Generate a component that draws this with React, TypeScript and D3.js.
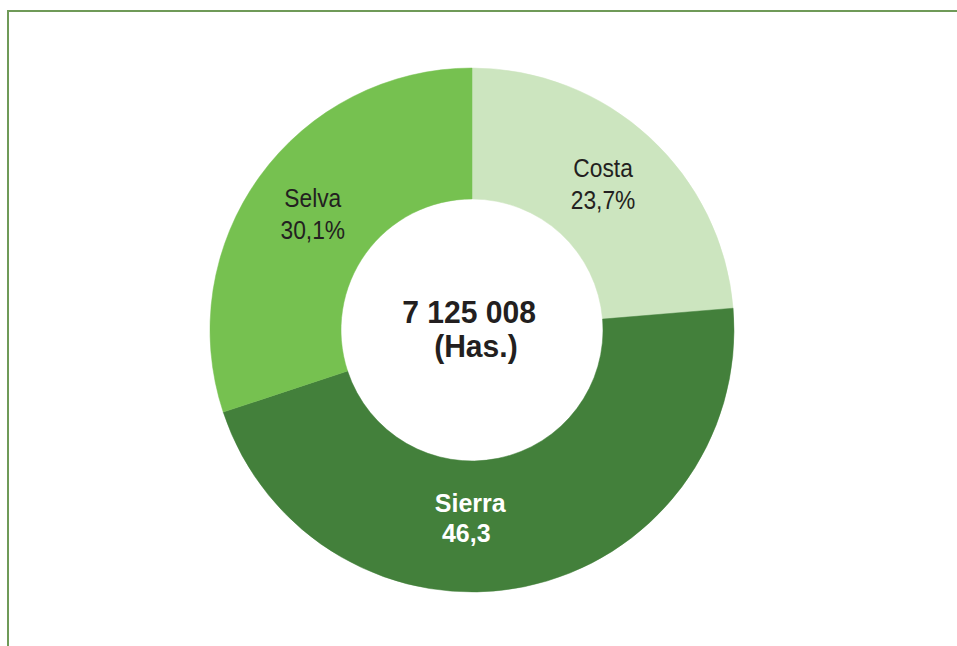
import { useEffect, useRef } from 'react'
import * as d3 from 'd3'

// Superficie agrícola por región natural
const regions = ['Costa', 'Sierra', 'Selva']
const shares = [23.7, 46.3, 30.1]
const shareLabels = ['23,7%', '46,3', '30,1%']
const colors = ['#cce5bf', '#43803b', '#76c150']
const labelColors = ['#231f20', '#ffffff', '#231f20']
const totalLines = ['7 125 008', '(Has.)']

const W = 957
const H = 646
const CX = 472
const CY = 330
const R_OUT = 262
const R_IN = 131
const FONT = "'Liberation Sans', Arial, Helvetica, sans-serif"

// small nudges from the arc centroid, as in the original layout
const NUDGE: [number, number][] = [[-2, -2], [-41, -4], [0, -2]]

type Slice = { region: string; value: number; i: number }

export default function App() {
  const svgRef = useRef<SVGSVGElement>(null)

  useEffect(() => {
    const svg = d3.select(svgRef.current)
    svg.selectAll('*').remove()
    svg.attr('viewBox', `0 0 ${W} ${H}`)

    svg.append('rect').attr('width', W).attr('height', H).attr('fill', '#ffffff')

    // ── marco ──
    svg.append('path')
      .attr('d', `M8,${H} L8,11 L${W},11`)
      .attr('fill', 'none').attr('stroke', '#6f9a58').attr('stroke-width', 2)

    const g = svg.append('g').attr('transform', `translate(${CX},${CY})`)

    const data: Slice[] = regions.map((r, i) => ({ region: r, value: shares[i], i }))
    const arcs = d3.pie<Slice>().value((d) => d.value).sort(null)(data)
    const arc = d3.arc<d3.PieArcDatum<Slice>>().innerRadius(R_IN).outerRadius(R_OUT)

    g.selectAll('path.slice').data(arcs).enter().append('path')
      .attr('class', 'slice')
      .attr('d', arc)
      .attr('fill', (d) => colors[d.data.i])
      .attr('stroke', (d) => colors[d.data.i]).attr('stroke-width', 0.5)

    // ── etiquetas ──
    arcs.forEach((d) => {
      const [x, y] = arc.centroid(d)
      const i = d.data.i
      const bold = i === 1
      const lg = g.append('g')
        .attr('transform', `translate(${x + NUDGE[i][0]},${y + NUDGE[i][1]}) scale(${bold ? 1 : 0.95},1.04)`)
      const t = lg.append('text')
        .attr('text-anchor', 'middle')
        .attr('font-family', FONT)
        .attr('font-size', bold ? 25 : 24)
        .attr('font-weight', bold ? 700 : 400)
        .attr('fill', labelColors[i])
      t.append('tspan').attr('x', 0).attr('y', -6).text(d.data.region)
      t.append('tspan').attr('x', bold ? -4 : 0).attr('y', bold ? 23 : 25).text(shareLabels[i])
    })

    // ── total al centro ──
    const cg = g.append('g').attr('transform', 'scale(0.97,1.04)')
    const ct = cg.append('text')
      .attr('text-anchor', 'middle')
      .attr('font-family', FONT)
      .attr('font-size', 31).attr('font-weight', 700).attr('fill', '#231f20')
    ct.append('tspan').attr('x', -3).attr('y', -7).text(totalLines[0])
    ct.append('tspan').attr('x', 4).attr('y', 26).text(totalLines[1])
  }, [])

  return (
    <svg ref={svgRef} width={W} height={H}
      style={{ position: 'absolute', left: 0, top: 0, display: 'block' }} />
  )
}
